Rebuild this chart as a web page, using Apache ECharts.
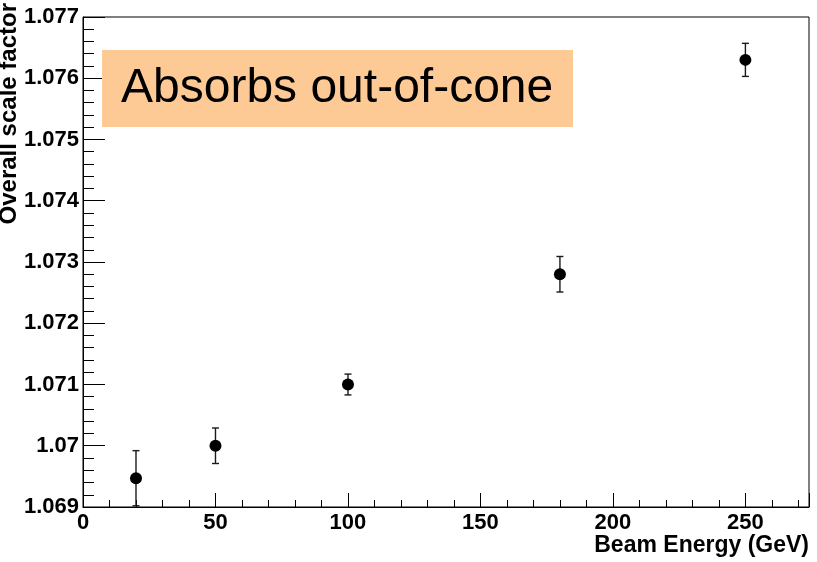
<!DOCTYPE html>
<html>
<head>
<meta charset="utf-8">
<script src="https://cdn.jsdelivr.net/npm/echarts@6/dist/echarts.min.js"></script>
<style>
  html, body { margin: 0; padding: 0; background: #fff; }
  #chart { width: 817px; height: 562px; }
</style>
</head>
<body>
<div id="chart"></div>
<script>
// Beam energy scan: overall scale factor with statistical errors
const beamEnergy  = [20, 50, 100, 180, 250];
const scaleFactor = [1.06947, 1.07000, 1.07100, 1.07280, 1.07630];
const scaleError  = [0.00045, 0.00029, 0.00017, 0.00029, 0.00027];

const xTitle = 'Beam Energy (GeV)';
const yTitle = 'Overall scale factor';
const boxText = 'Absorbs out-of-cone';

const FONT = "'Liberation Sans', Arial, Helvetica, sans-serif";

const points = beamEnergy.map((e, i) => [e, scaleFactor[i]]);
const bars = beamEnergy.map((e, i) => [e, scaleFactor[i] - scaleError[i], scaleFactor[i] + scaleError[i]]);

const chart = echarts.init(document.getElementById('chart'), null, { renderer: 'canvas' });

const labelStyle = { fontFamily: FONT, fontWeight: 'bold', fontSize: 22, color: '#000' };

chart.setOption({
  animation: false,
  backgroundColor: '#fff',
  grid: {
    left: 83, right: 8, top: 17, bottom: 55,
    show: true, borderColor: '#000', borderWidth: 1, backgroundColor: 'transparent'
  },
  xAxis: [
    {
      type: 'value', min: 0, max: 274, interval: 50, position: 'bottom',
      axisLine: { show: true, lineStyle: { color: '#000', width: 1 } },
      axisTick: { show: true, inside: true, length: 14, lineStyle: { color: '#000', width: 1 } },
      splitLine: { show: false },
      axisLabel: Object.assign({ margin: 5,
        formatter: v => (v % 50 === 0 ? String(v) : '') }, labelStyle),
      name: xTitle,
      nameLocation: 'end',
      nameGap: 0,
      nameTextStyle: Object.assign({}, labelStyle, { fontSize: 23, align: 'right', verticalAlign: 'top', padding: [27, 0, 0, 0] })
    },
    {
      type: 'value', min: 0, max: 274, interval: 10, position: 'bottom',
      axisLine: { show: false },
      axisTick: { show: true, inside: true, length: 7, lineStyle: { color: '#000', width: 1 } },
      splitLine: { show: false },
      axisLabel: { show: false }
    }
  ],
  yAxis: {
    type: 'value', min: 1.069, max: 1.077, interval: 0.001,
    axisLine: { show: true, lineStyle: { color: '#000', width: 1 } },
    axisTick: { show: true, inside: true, length: 22, lineStyle: { color: '#000', width: 1 } },
    minorTick: { show: true, splitNumber: 5, length: 11, lineStyle: { color: '#000', width: 1 } },
    splitLine: { show: false },
    axisLabel: Object.assign({ margin: 4 }, labelStyle)
  },
  series: [
    {
      type: 'custom',
      xAxisIndex: 0,
      data: bars,
      z: 2,
      renderItem: function (params, api) {
        const x = api.value(0);
        const lo = api.coord([x, api.value(1)]);
        const hi = api.coord([x, api.value(2)]);
        const cap = 3.5;
        const st = { stroke: '#1a1a1a', lineWidth: 1.4 };
        return {
          type: 'group',
          children: [
            { type: 'line', shape: { x1: hi[0], y1: hi[1], x2: lo[0], y2: lo[1] }, style: st },
            { type: 'line', shape: { x1: hi[0] - cap, y1: hi[1], x2: hi[0] + cap, y2: hi[1] }, style: st },
            { type: 'line', shape: { x1: lo[0] - cap, y1: lo[1], x2: lo[0] + cap, y2: lo[1] }, style: st }
          ]
        };
      }
    },
    {
      type: 'scatter',
      xAxisIndex: 0,
      data: points,
      symbol: 'circle',
      symbolSize: 12,
      itemStyle: { color: '#000', opacity: 1 },
      z: 3
    }
  ],
  graphic: [
    {
      type: 'rect', z: 100,
      shape: { x: 102, y: 50, width: 471, height: 77 },
      style: { fill: '#fdca96' }
    },
    {
      type: 'text', z: 101, x: 121, y: 89,
      style: { text: boxText, font: "48px " + FONT, fill: '#000', align: 'left', verticalAlign: 'middle' }
    },
    {
      type: 'text', z: 101, x: 9, y: 3, rotation: Math.PI / 2,
      style: { text: yTitle, font: "bold 24px " + FONT, fill: '#000', align: 'right', verticalAlign: 'middle' }
    }
  ]
});
</script>
</body>
</html>
